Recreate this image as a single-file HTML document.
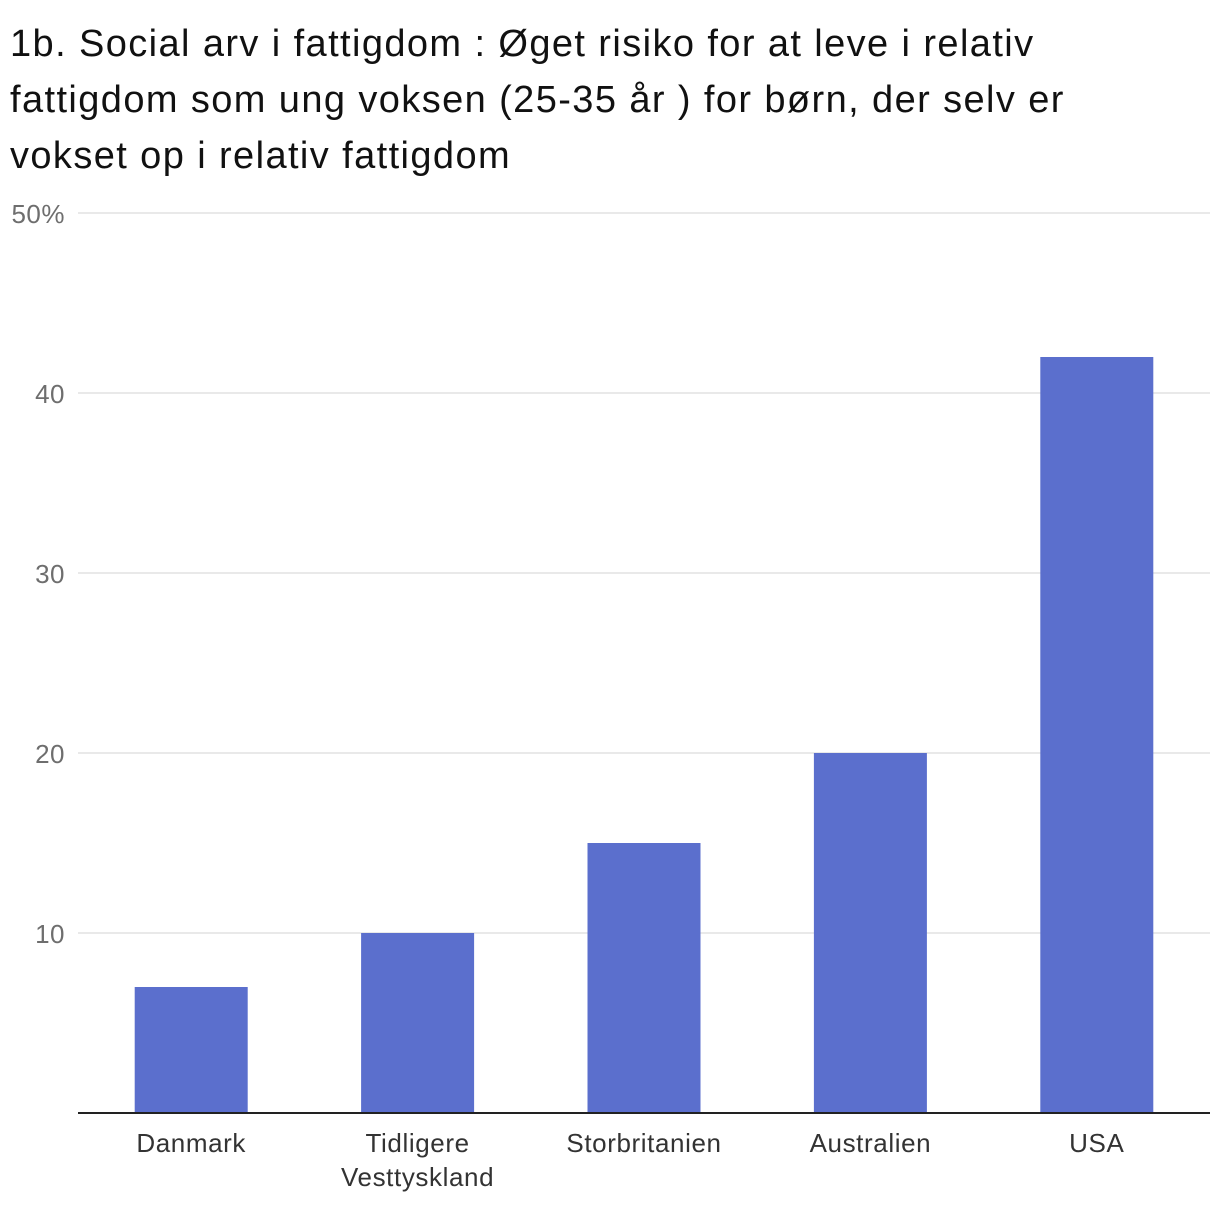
<!DOCTYPE html>
<html><head><meta charset="utf-8"><style>
body{margin:0;background:#fff;width:1220px;height:1208px;overflow:hidden;font-family:"Liberation Sans",sans-serif}
h1{position:absolute;left:10px;top:16px;margin:0;font-weight:normal;font-size:38px;line-height:56px;color:#111;width:1210px;white-space:nowrap;letter-spacing:1.4px}
</style></head><body>
<h1>1b. Social arv i fattigdom : Øget risiko for at leve i relativ<br>fattigdom som ung voksen (25-35 år ) for børn, der selv er<br>vokset op i relativ fattigdom</h1>
<svg id="c" width="1220" height="1208" style="position:absolute;left:0;top:0"></svg>
<script>
const categories=["Danmark","Tidligere|Vesttyskland","Storbritanien","Australien","USA"];
const values=[7,10,15,20,42];
const ticks=[10,20,30,40,50];
const tickLabels=["10","20","30","40","50%"];
const svg=document.getElementById('c');const NS="http://www.w3.org/2000/svg";
const x0=78,x1=1210,y0=1113,yTop=213,vmax=50;
const y=v=>y0-(y0-yTop)*v/vmax;
const band=(x1-x0)/categories.length;
const xc=i=>x0+band*(i+0.5);
function mk(t,a){const e=document.createElementNS(NS,t);for(const k in a)e.setAttribute(k,a[k]);svg.appendChild(e);return e;}
ticks.forEach((t,i)=>{
const g=mk('line',{x1:x0,x2:x1,y1:y(t),y2:y(t),stroke:'#e2e2e2','stroke-width':1.5});


const l=mk('text',{x:65,y:y(t)+10,'text-anchor':'end','font-size':26,fill:'#6e6e6e','letter-spacing':0.5,'font-family':'Liberation Sans, sans-serif'});
l.textContent=tickLabels[i];


});
values.forEach((v,i)=>{
const b=mk('rect',{x:xc(i)-56.5,width:113,y:y(v),height:y0-y(v),fill:'#5b6fcd'});


categories[i].split('|').forEach((s,j)=>{
const t=mk('text',{x:xc(i),y:1152+j*34,'text-anchor':'middle','font-size':26,fill:'#333','letter-spacing':0.6,'font-family':'Liberation Sans, sans-serif'});
t.textContent=s;


});
});
const ax=mk('line',{x1:x0,x2:x1,y1:y0,y2:y0,stroke:'#222','stroke-width':2});


</script>
</body></html>
